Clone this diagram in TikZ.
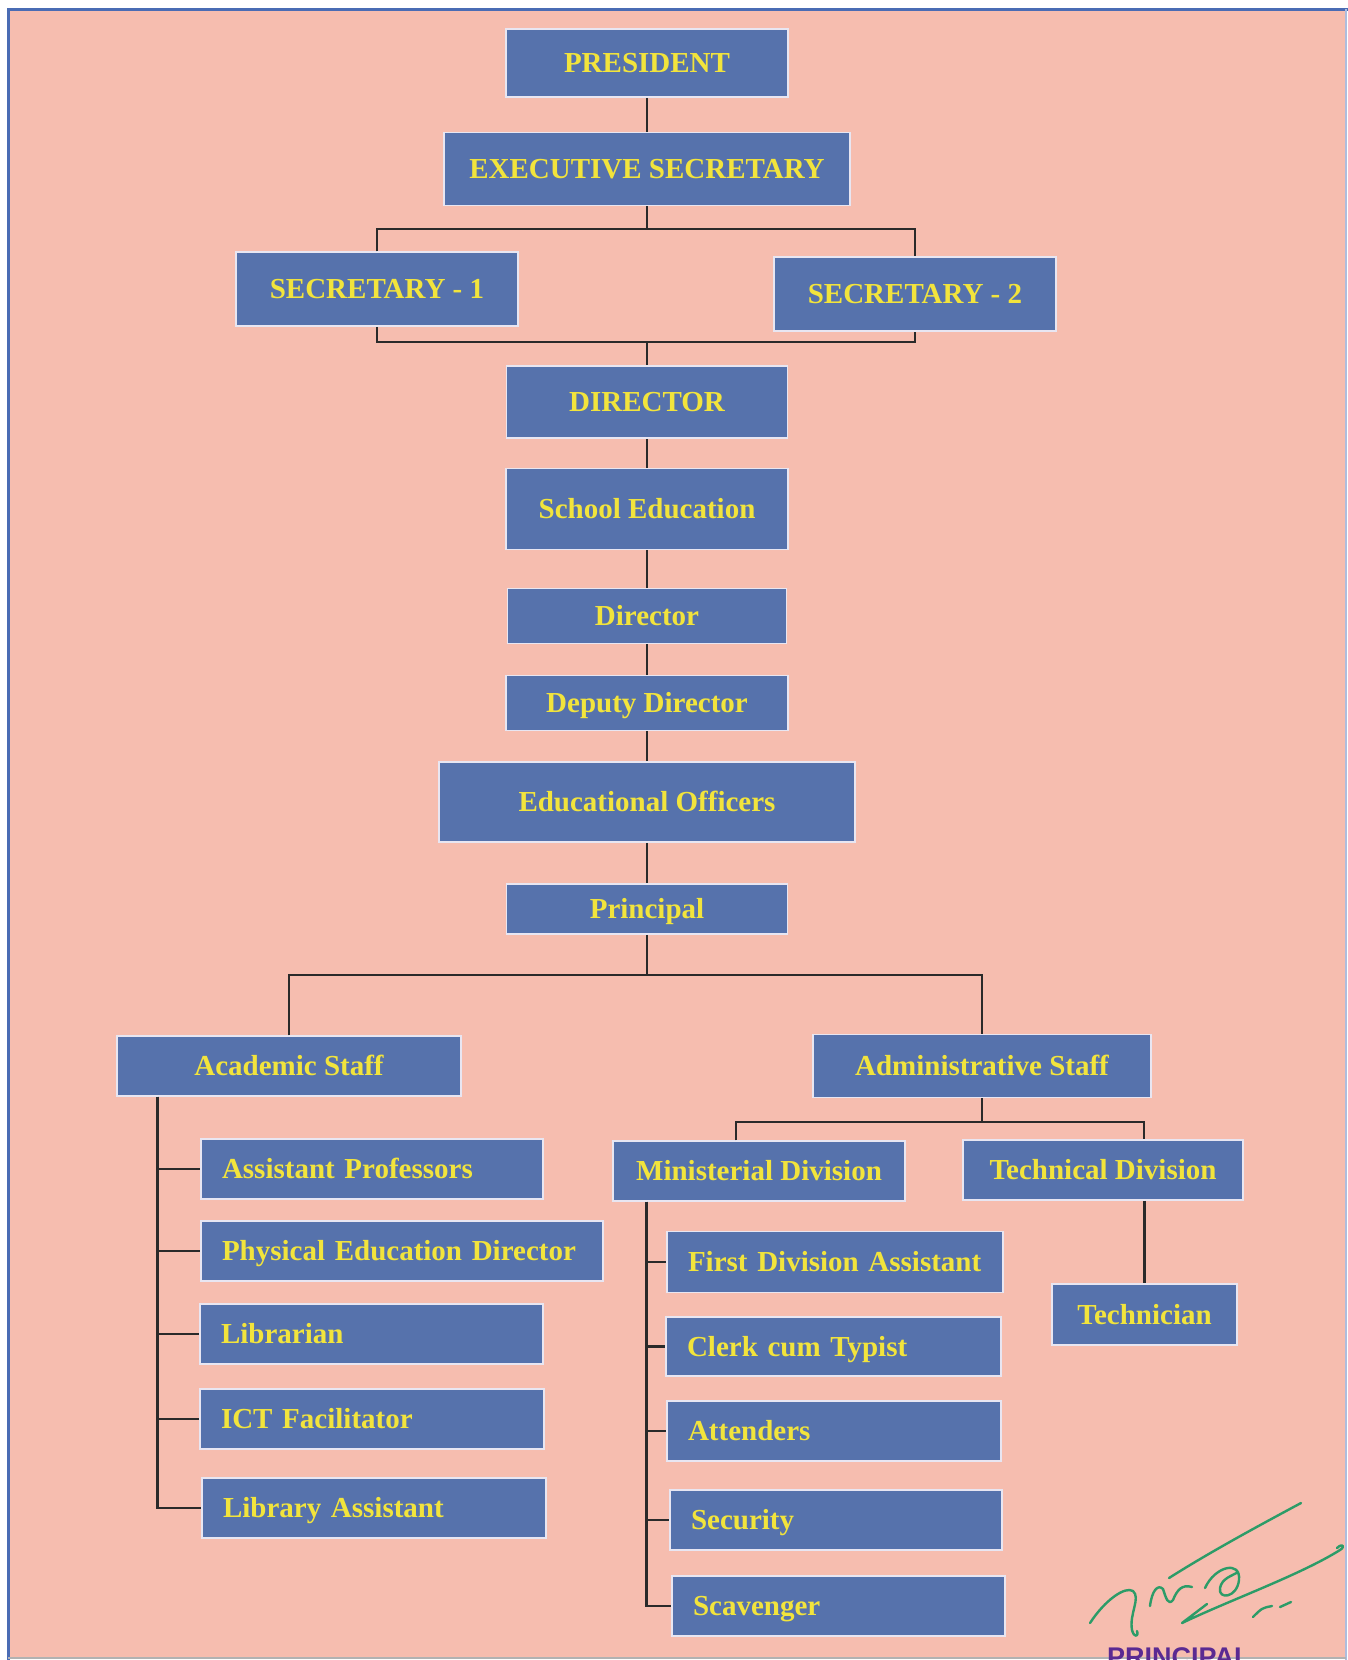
\documentclass[tikz,border=0pt]{standalone}
\usepackage{fontspec}
\setmainfont{Liberation Serif}
\setsansfont{Liberation Sans}
\definecolor{bgpink}{HTML}{F6BDAF}
\definecolor{boxblue}{HTML}{5672AC}
\definecolor{boxedge}{HTML}{E8E6F2}
\definecolor{txtyellow}{HTML}{F2E43C}
\definecolor{frameblue}{HTML}{4A6CB4}
\definecolor{linedark}{HTML}{2A2A2A}
\definecolor{siggreen}{HTML}{2C9C68}
\definecolor{stampcol}{HTML}{5A2A92}
\begin{document}
\begin{tikzpicture}[x=1pt,y=-1pt,
  box/.style={rectangle, fill=boxblue, draw=boxedge, line width=1.5pt, inner sep=0pt,
    text=txtyellow, font=\fontsize{29}{31}\selectfont\bfseries, align=center,
    text height=19.5pt, text depth=0pt},
  lbox/.style={box, align=left, inner xsep=21pt},
  conn/.style={draw=linedark, line width=2.8pt},
  sig/.style={draw=siggreen, line width=2.4pt, line cap=round, line join=round}]
\useasboundingbox (0,0) rectangle (1348,1660);
\clip (0,0) rectangle (1348,1660);
\fill[white] (0,0) rectangle (1348,1660);
\fill[bgpink] (8,9) rectangle (1346,1659);
\draw[frameblue, line width=3pt] (8,1660) -- (8,9) -- (1348,9);
\draw[frameblue!45, line width=1.2pt] (1346,9) -- (1346,1660);
\draw[black!30, line width=1.2pt] (8,1658) -- (1346,1658);

% top column
\node[box, minimum width=282pt, minimum height=68pt] (pres) at (647,63) {PRESIDENT};
\node[box, minimum width=406pt, minimum height=73pt] (exec) at (647,169) {EXECUTIVE SECRETARY};
\node[box, minimum width=282pt, minimum height=74pt] (sec1) at (377,289) {SECRETARY - 1};
\node[box, minimum width=282pt, minimum height=74pt] (sec2) at (915,294) {SECRETARY - 2};
\node[box, minimum width=281pt, minimum height=72pt] (dir) at (647,402) {DIRECTOR};
\node[box, minimum width=282pt, minimum height=81pt] (school) at (647,509) {School Education};
\node[box, minimum width=279pt, minimum height=55pt] (director) at (647,616) {Director};
\node[box, minimum width=282pt, minimum height=55pt] (deputy) at (647,703) {Deputy Director};
\node[box, minimum width=416pt, minimum height=80pt] (edu) at (647,802) {Educational Officers};
\node[box, minimum width=281pt, minimum height=50pt] (prin) at (647,909) {Principal};

% staff
\node[box, minimum width=344pt, minimum height=60pt] (acad) at (289,1066) {Academic Staff};
\node[box, minimum width=338pt, minimum height=63pt] (admin) at (982,1066) {Administrative Staff};

\node[lbox, text width=300pt, minimum height=60pt] (ap) at (372,1169) {\mbox{Assistant Professors}};
\node[lbox, text width=360pt, minimum height=60pt] (ped) at (402,1251) {\mbox{Physical Education Director}};
\node[lbox, text width=301pt, minimum height=60pt] (lib) at (371.5,1334) {\mbox{Librarian}};
\node[lbox, text width=302pt, minimum height=60pt] (ict) at (372,1419) {\mbox{ICT Facilitator}};
\node[lbox, text width=302pt, minimum height=60pt] (libas) at (374,1508) {\mbox{Library Assistant}};

\node[box, minimum width=292pt, minimum height=60pt] (min) at (759,1171) {Ministerial Division};
\node[box, minimum width=280pt, minimum height=60pt] (tech) at (1103,1170) {Technical Division};

\node[lbox, text width=294pt, minimum height=61pt] (fda) at (835,1262) {\mbox{First Division Assistant}};
\node[lbox, text width=293pt, minimum height=59pt] (clerk) at (833.5,1346.5) {\mbox{Clerk cum Typist}};
\node[lbox, text width=292pt, minimum height=60pt] (att) at (834,1431) {\mbox{Attenders}};
\node[lbox, text width=290pt, minimum height=60pt] (sec) at (836,1520) {\mbox{Security}};
\node[lbox, text width=291pt, minimum height=60pt] (scav) at (838.5,1606) {\mbox{Scavenger}};

\node[box, minimum width=185pt, minimum height=61pt] (techn) at (1144.5,1314.5) {Technician};

% connectors
\coordinate (bar1) at (647,229);
\coordinate (bar2) at (647,342);
\coordinate (bar3) at (647,975);
\coordinate (b4l) at (736,1122);
\coordinate (b4r) at (1144,1122);
\coordinate (atr) at ([xshift=41pt]acad.south west);
\coordinate (mtr) at ([xshift=34pt]min.south west);

\draw[conn] (pres.south) -- (exec.north);
\draw[conn] (exec.south) -- (bar1);
\draw[conn] (sec1.north) |- (bar1) -| (sec2.north);
\draw[conn] (sec1.south) |- (bar2) -| (sec2.south);
\draw[conn] (bar2) -- (dir.north);
\draw[conn] (dir.south) -- (school.north);
\draw[conn] (school.south) -- (director.north);
\draw[conn] (director.south) -- (deputy.north);
\draw[conn] (deputy.south) -- (edu.north);
\draw[conn] (edu.south) -- (prin.north);
\draw[conn] (prin.south) -- (bar3);
\draw[conn] (acad.north) |- (bar3) -| (admin.north);

\draw[conn] (atr) |- (ap.west);
\draw[conn] (atr) |- (ped.west);
\draw[conn] (atr) |- (lib.west);
\draw[conn] (atr) |- (ict.west);
\draw[conn] (atr) |- (libas.west);

\draw[conn] (admin.south) -- (admin.south |- b4l);
\draw[conn] (min.north -| b4l) |- (b4r) -- (b4r |- tech.north);

\draw[conn] (mtr) |- (fda.west);
\draw[conn] (mtr) |- (clerk.west);
\draw[conn] (mtr) |- (att.west);
\draw[conn] (mtr) |- (sec.west);
\draw[conn] (mtr) |- (scav.west);

\draw[conn] (tech.south -| techn.north) -- (techn.north);

% signature
\draw[sig] (1169,1578) .. controls (1210,1552) and (1260,1525) .. (1301,1503);
\draw[sig] (1207,1604) -- (1182,1623) .. controls (1230,1600) and (1300,1575) .. (1340,1550) .. controls (1346,1546) and (1342,1543) .. (1337,1548);
\draw[sig] (1090,1623) .. controls (1105,1600) and (1125,1586) .. (1133,1591) .. controls (1141,1598) and (1129,1614) .. (1132,1630) .. controls (1134,1638) and (1139,1637) .. (1137,1631);
\draw[sig] (1150,1606) .. controls (1152,1590) and (1158,1584) .. (1163,1589) .. controls (1166,1598) and (1168,1606) .. (1173,1600) .. controls (1177,1590) and (1182,1584) .. (1192,1587);
\draw[sig] (1205,1588) .. controls (1215,1566) and (1241,1560) .. (1239,1580) .. controls (1237,1598) and (1218,1600) .. (1220,1588) .. controls (1222,1578) and (1232,1576) .. (1238,1572);
\draw[sig] (1253,1617) .. controls (1262,1608) .. (1272,1606);
\draw[sig] (1280,1607) -- (1291,1602);
\node[font=\fontsize{27}{27}\selectfont\sffamily\bfseries, text=stampcol, anchor=base west, inner sep=0pt] (stamp) at (1107,1666) {PRINCIPAL};
\end{tikzpicture}
\end{document}
